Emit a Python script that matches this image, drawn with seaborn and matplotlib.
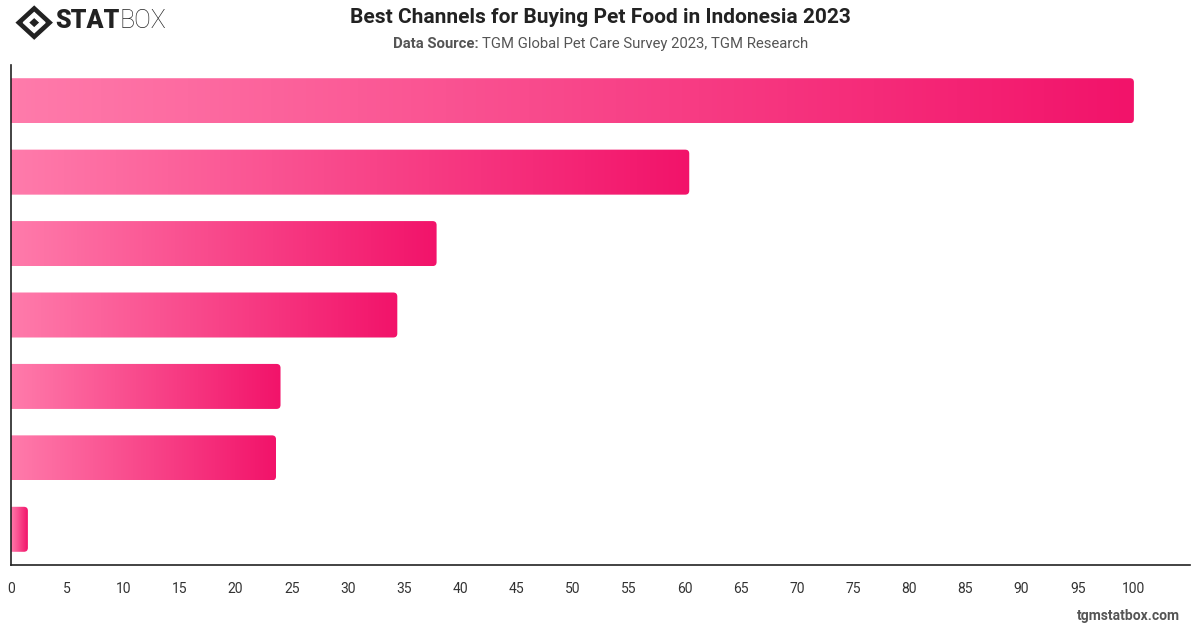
import numpy as np
import pandas as pd
import matplotlib.pyplot as plt
import seaborn as sns
from matplotlib.patches import FancyBboxPatch, Polygon

# values (category names are not shown on the chart)
channels = ['Pet stores', 'Supermarkets', 'Online marketplaces', 'Convenience stores',
            'Veterinary clinics', 'Pet brand websites', 'Other']
share = [100, 60.4, 37.9, 34.4, 24.0, 23.6, 1.5]
xticks = list(range(0, 105, 5))

df = pd.DataFrame({'channel': channels, 'share': share})

sns.set_style('white')
plt.rcParams['font.family'] = ['Roboto', 'DejaVu Sans']

fig = plt.figure(figsize=(12, 6.28), dpi=100)
ax = fig.add_axes([0.0092, 0.1003, 0.9825, 0.7962])

sns.barplot(data=df, x='share', y='channel', orient='h', color='#ff7aa8',
            width=0.63, ax=ax)

ax.set_xlim(0, 105)
ax.set_ylim(6.5, -0.5)

# gradient fill for every bar, light pink on the left to deep pink on the right
grad = np.linspace(0, 1, 256).reshape(1, -1)
cmap = sns.blend_palette(['#ff7bab', '#f2136a'], as_cmap=True)
xr = 0.36   # ~4px corner in x units
yr = 0.056  # ~4px corner in y units
for p in list(ax.patches):
    x0, y0 = p.get_x(), p.get_y()
    w, h = p.get_width(), p.get_height()
    p.set_visible(False)
    box = FancyBboxPatch((x0 - 1, y0), w + 1, h,
                         boxstyle='round,pad=0,rounding_size=%f' % xr,
                         mutation_aspect=yr / xr, transform=ax.transData,
                         facecolor='none', edgecolor='none')
    ax.add_patch(box)
    im = ax.imshow(grad, cmap=cmap, aspect='auto', extent=[x0, x0 + w, y0 + h, y0],
                   interpolation='bicubic', zorder=2)
    im.set_clip_path(box)

ax.set_xlim(0, 105)
ax.set_ylim(6.5, -0.5)
ax.set_xticks(xticks)
ax.set_xticklabels([str(t) for t in xticks], color='#333333', fontsize=10)
ax.tick_params(axis='x', length=0, pad=12)
ax.set_yticks([])
ax.set_xlabel('')
ax.set_ylabel('')
for s in ['top', 'right']:
    ax.spines[s].set_visible(False)
for s in ['left', 'bottom']:
    ax.spines[s].set_color('#222222')
    ax.spines[s].set_linewidth(1.2)

# titles
fig.text(0.5, 0.972, 'Best Channels for Buying Pet Food in Indonesia 2023',
         ha='center', va='center', fontsize=15, fontweight='bold', color='#222222')
sub = fig.text(0.5, 0.930, 'Data Source: TGM Global Pet Care Survey 2023, TGM Research',
               ha='center', va='center', fontsize=10.7, color='#555555', alpha=0)
fig.canvas.draw()
bb = sub.get_window_extent().transformed(fig.transFigure.inverted())
lab = fig.text(bb.x0, 0.930, 'Data Source: ', ha='left', va='center', fontsize=10.7,
               fontweight='bold', color='#555555')
fig.canvas.draw()
lb = lab.get_window_extent().transformed(fig.transFigure.inverted())
fig.text(lb.x1, 0.930, 'TGM Global Pet Care Survey 2023, TGM Research', ha='left',
         va='center', fontsize=10.7, color='#555555')

# footer
fig.text(0.983, 0.019, 'tgmstatbox.com', ha='right', va='center', fontsize=10,
         fontweight='bold', color='#555555')

# logo
lax = fig.add_axes([0.012, 0.935, 0.033, 0.058])
lax.set_xlim(-1, 1)
lax.set_ylim(-1, 1)
lax.axis('off')
lax.add_patch(Polygon([[0, 1], [1, 0], [0, -1], [-1, 0]], closed=True,
                      facecolor='#222222'))
lax.add_patch(Polygon([[0, 0.55], [0.55, 0], [0, -0.55], [-0.55, 0]], closed=True,
                      facecolor='white'))
lax.add_patch(Polygon([[0, 0.3], [0.3, 0], [0, -0.3], [-0.3, 0]], closed=True,
                      facecolor='#222222'))
st = fig.text(0.046, 0.966, 'STAT', ha='left', va='center', fontsize=18,
              fontweight='heavy', color='#222222')
fig.canvas.draw()
sb = st.get_window_extent().transformed(fig.transFigure.inverted())
fig.text(sb.x1, 0.966, 'BOX', ha='left', va='center', fontsize=18,
         fontweight='light', color='#222222')

fig.savefig('out.png', dpi=100)
